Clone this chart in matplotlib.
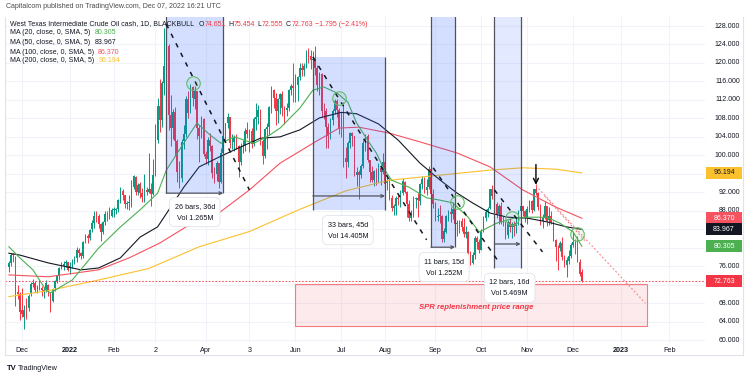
import numpy as np
import pandas as pd
import matplotlib
matplotlib.use("Agg")
import matplotlib.pyplot as plt
from matplotlib.patches import Rectangle

plt.rcParams['font.family'] = ['Liberation Sans', 'DejaVu Sans']

# trading calendar (NYMEX holidays skipped)
HOLIDAYS = ["2021-11-25", "2021-12-24", "2022-01-17", "2022-02-21", "2022-04-15",
            "2022-05-30", "2022-06-20", "2022-07-04", "2022-09-05", "2022-11-24"]

# daily OHLC, 2021-11-22 .. 2022-12-07
opens = [
    75.9, 76.7, 78.5, 78.0, 70.5, 70.0,  # Nov
    66.5, 65.0, 67.0, 67.0, 70.0, 72.1, 72.4, 71.0, 72.0, 71.3, 70.7, 71.0, 72.0, 70.0,
    68.4, 71.2, 72.8, 73.9, 75.6, 76.0, 76.6, 77.0,  # Dec
    75.7, 76.1, 77.0, 77.8, 79.5, 78.9, 78.2, 81.2, 82.6, 82.1, 84.0, 85.4, 87.0, 86.9,
    85.1, 83.3, 85.6, 87.4, 86.6, 86.9,  # Jan
    88.2, 88.2, 88.3, 90.3, 92.3, 91.3, 89.4, 89.7, 89.9, 93.1, 95.4, 92.1, 93.7, 91.8,
    91.1, 92.4, 92.1, 92.8, 91.6,  # Feb
    95.7, 103.4, 110.6, 107.7, 115.7, 119.4, 123.7, 108.7, 106.0, 109.3, 103.0, 96.4,
    95.0, 103.0, 104.7, 112.1, 109.3, 114.9, 112.3, 113.9, 106.0, 104.2, 107.8,  # Mar
    100.3, 99.3, 103.3, 102.0, 96.2, 96.0, 98.3, 94.3, 100.6, 104.3, 107.0, 108.2, 102.6,
    102.8, 103.8, 102.1, 98.5, 101.7, 102.0, 105.4,  # Apr
    104.7, 105.2, 102.4, 107.8, 108.3, 109.8, 103.1, 99.8, 105.7, 106.1, 110.5, 114.2,
    112.4, 109.6, 112.2, 113.2, 110.3, 109.8, 110.3, 114.1, 115.1,  # May
    114.7, 115.3, 116.9, 118.9, 118.5, 119.4, 122.1, 121.5, 120.7, 120.9, 118.9, 115.3,
    117.6, 109.6, 109.5, 106.2, 104.3, 107.6, 109.6, 111.8, 109.8,  # Jun
    105.8, 108.4, 99.5, 98.5, 102.7, 104.8, 104.1, 95.8, 96.3, 95.8, 97.6, 102.6, 104.2,
    98.9, 96.4, 94.7, 96.7, 95.0, 97.3, 96.4,  # Jul
    98.6, 93.9, 94.4, 90.7, 88.5, 89.0, 90.8, 90.5, 91.9, 94.3, 92.1, 89.4, 86.5, 87.1,
    90.5, 90.8, 90.2, 93.7, 94.9, 92.5, 93.1, 97.0, 91.6,  # Aug
    89.6, 86.6, 86.9, 86.9, 81.9, 83.5, 86.8, 87.8, 87.3, 88.5, 85.1, 85.1, 85.7, 84.5,
    82.9, 83.5, 78.7, 76.7, 78.5, 82.2, 81.2,  # Sep
    79.5, 83.6, 86.5, 87.8, 88.5, 92.6, 91.1, 89.4, 87.3, 89.1, 85.6, 85.5, 82.8, 85.6,
    84.5, 85.1, 84.6, 85.3, 87.9, 89.1, 87.9,  # Oct
    86.5, 88.4, 90.0, 88.2, 92.6, 91.8, 88.9, 85.8, 86.5, 89.0, 85.9, 86.9, 85.6, 81.6,
    80.1, 80.0, 81.0, 77.9, 76.3, 77.2, 78.2,  # Nov
    80.6, 81.2, 80.0, 76.9, 74.651,  # Dec
]
highs = [
    77.2, 78.9, 78.9, 78.3, 72.0, 70.5,
    71.3, 67.5, 69.2, 70.0, 72.6, 73.3, 72.8, 72.0, 73.0, 71.8, 71.5, 72.9, 72.2, 70.3,
    71.3, 72.9, 73.9, 75.8, 76.9, 77.2, 77.3, 77.0,
    77.0, 77.6, 78.1, 80.2, 80.0, 79.1, 81.5, 82.9, 83.0, 84.1, 86.0, 87.9, 87.9, 87.2,
    85.3, 85.7, 87.9, 88.0, 88.8, 88.6,
    88.9, 88.7, 90.5, 93.2, 92.7, 91.5, 90.0, 91.4, 94.7, 95.8, 95.6, 94.0, 94.2, 92.9,
    96.0, 93.2, 100.5, 94.0, 99.1,
    106.8, 112.5, 116.6, 116.0, 127.5, 126.0, 124.0, 113.0, 110.0, 110.5, 103.5, 98.8,
    103.5, 106.6, 112.8, 114.0, 115.4, 115.0, 115.0, 114.0, 106.5, 108.6, 108.0,
    101.0, 104.0, 104.9, 102.2, 97.5, 98.8, 98.3, 101.6, 104.5, 107.0, 109.2, 108.4,
    104.7, 104.4, 104.7, 102.3, 102.6, 103.4, 106.0, 107.3,
    105.7, 106.0, 108.4, 111.4, 111.0, 110.0, 103.6, 106.0, 107.0, 110.7, 115.0, 114.3,
    113.4, 112.5, 113.6, 113.9, 110.6, 111.4, 114.4, 115.5, 119.9,
    117.6, 117.1, 120.0, 120.0, 120.0, 122.7, 123.2, 122.7, 122.5, 123.7, 119.5, 118.0,
    117.8, 111.3, 110.3, 106.9, 108.0, 110.0, 112.3, 112.3, 110.3,
    109.4, 111.5, 101.9, 103.2, 105.1, 105.1, 104.2, 97.4, 96.8, 98.2, 103.4, 104.7,
    104.6, 99.0, 97.7, 96.9, 97.2, 98.4, 98.0, 100.5,
    99.0, 95.7, 95.0, 91.4, 89.4, 91.1, 91.5, 92.4, 95.1, 94.4, 92.2, 90.3, 88.2, 91.1,
    91.0, 91.8, 94.0, 95.5, 95.4, 94.8, 97.7, 97.6, 92.6,
    89.9, 88.5, 89.2, 87.0, 84.3, 87.0, 88.1, 88.8, 89.8, 88.6, 85.9, 86.0, 86.4, 86.5,
    84.7, 83.7, 79.3, 79.0, 82.6, 82.5, 81.8,
    84.0, 86.8, 88.4, 88.9, 92.8, 93.6, 91.5, 89.9, 89.4, 89.8, 86.9, 85.8, 86.1, 86.4,
    85.6, 85.7, 86.4, 88.1, 89.9, 89.1, 88.1,
    89.0, 90.4, 90.3, 92.8, 93.7, 92.0, 89.4, 87.4, 90.1, 89.0, 88.8, 87.9, 85.7, 81.9,
    80.6, 81.4, 82.3, 78.5, 77.9, 79.5, 81.0,
    83.3, 81.9, 82.6, 77.5, 75.454,
]
lows = [
    74.7, 76.1, 77.0, 67.4, 68.9, 64.4,
    65.0, 62.4, 64.6, 66.2, 69.5, 71.4, 70.4, 70.2, 70.8, 69.6, 69.0, 70.5, 69.5, 66.1,
    68.2, 70.7, 72.3, 72.9, 75.3, 75.1, 75.8, 74.9,
    74.3, 75.7, 76.4, 76.8, 78.0, 77.5, 77.8, 81.0, 81.1, 81.6, 83.5, 84.2, 85.5, 84.2,
    81.5, 82.9, 85.0, 85.7, 86.2, 86.6,
    86.6, 87.2, 87.8, 89.6, 90.3, 88.6, 88.4, 88.2, 88.8, 92.8, 91.3, 91.4, 90.8, 89.9,
    89.8, 91.4, 91.9, 89.0, 91.5,
    95.6, 102.6, 105.0, 106.2, 113.1, 117.6, 105.5, 102.1, 103.5, 99.8, 94.2, 93.0,
    94.2, 101.3, 103.9, 108.0, 109.2, 110.7, 110.0, 103.5, 98.5, 103.7, 99.8,
    98.2, 98.0, 100.9, 95.0, 93.9, 94.5, 92.9, 94.0, 99.2, 103.3, 106.0, 101.6,
    101.4, 101.0, 101.3, 95.3, 97.8, 100.4, 101.0, 103.7,
    100.8, 101.5, 102.0, 105.4, 106.8, 102.3, 98.2, 99.5, 101.4, 104.4, 109.2, 110.2,
    106.6, 107.1, 108.9, 108.6, 106.7, 108.6, 109.6, 113.1, 111.5,
    111.5, 111.8, 116.3, 117.2, 117.2, 119.0, 120.0, 118.7, 117.8, 117.3, 114.0, 113.0,
    108.2, 107.9, 101.5, 101.6, 103.5, 106.6, 109.0, 108.4, 104.6,
    104.0, 97.4, 95.1, 97.5, 101.6, 102.0, 95.6, 93.4, 90.6, 95.0, 97.3, 101.0,
    98.5, 94.3, 94.3, 93.4, 93.6, 94.3, 93.5, 96.0,
    93.3, 92.5, 90.3, 87.9, 87.1, 87.0, 89.3, 88.8, 91.5, 91.8, 86.6, 85.7, 85.7, 86.6,
    88.6, 86.7, 89.3, 92.6, 91.8, 91.4, 92.8, 90.8, 88.7,
    85.8, 85.7, 85.4, 81.2, 81.3, 83.2, 85.8, 85.6, 86.3, 84.4, 82.6, 83.1, 83.7, 82.3,
    82.2, 78.2, 76.3, 76.5, 77.6, 79.8, 78.9,
    79.4, 83.3, 85.8, 86.6, 88.4, 90.6, 88.5, 86.4, 85.2, 85.2, 84.6, 81.8, 82.1, 83.3,
    82.1, 82.5, 83.1, 84.9, 87.2, 86.9, 85.6,
    85.1, 87.8, 87.6, 87.9, 91.4, 88.1, 85.0, 84.2, 86.2, 84.8, 84.9, 85.2, 81.4, 77.2,
    75.1, 79.2, 77.4, 75.9, 73.6, 76.5, 77.8,
    80.2, 78.6, 76.8, 73.9, 72.555,
]
closes = [
    76.75, 78.50, 78.39, 68.15, 69.95, 66.18,
    65.57, 66.50, 66.26, 69.49, 72.05, 72.36, 70.94, 71.67, 71.29, 70.73, 70.87, 72.38,
    70.86, 68.23, 71.12, 72.76, 73.79, 75.57, 75.98, 76.56, 76.99, 75.21,
    76.08, 76.99, 77.85, 79.46, 78.90, 78.23, 81.22, 82.64, 82.12, 83.82, 85.43, 86.96,
    86.90, 85.14, 83.31, 85.60, 87.35, 86.61, 86.82, 88.15,
    88.20, 88.26, 90.27, 92.31, 91.32, 89.36, 89.66, 89.88, 93.10, 95.46, 92.07, 93.66,
    91.76, 91.07, 92.35, 92.10, 92.81, 91.59, 95.72,
    103.41, 110.60, 107.67, 115.68, 119.40, 123.70, 108.70, 106.02, 109.33, 103.01,
    96.44, 95.04, 102.98, 104.70, 112.12, 109.27, 114.93, 112.34, 113.90, 105.96, 104.24,
    107.82, 100.28,
    99.27, 103.28, 102.00, 96.23, 96.03, 98.26, 94.29, 100.60, 104.25, 106.95, 108.21,
    102.56, 102.75, 103.79, 102.07, 98.54, 101.70, 102.02, 105.36, 104.69,
    105.17, 102.41, 107.81, 108.26, 109.77, 103.09, 99.76, 105.71, 106.13, 110.49, 114.20,
    112.40, 109.59, 112.21, 113.23, 110.29, 109.77, 110.33, 114.09, 115.07, 114.67,
    115.26, 116.87, 118.87, 118.50, 119.41, 122.11, 121.51, 120.67, 120.93, 118.93, 115.31,
    117.59, 109.56, 109.52, 106.19, 104.27, 107.62, 109.57, 111.76, 109.78, 105.76,
    108.43, 99.50, 98.53, 102.73, 104.79, 104.09, 95.84, 96.30, 95.78, 97.59, 102.60,
    104.22, 98.88, 96.35, 94.70, 96.70, 94.98, 97.26, 96.42, 98.62,
    93.89, 94.42, 90.66, 88.54, 89.01, 90.76, 90.50, 91.93, 94.34, 92.09, 89.41, 86.53,
    87.11, 90.50, 90.77, 90.23, 93.74, 94.89, 92.52, 93.06, 97.01, 91.64, 89.55,
    86.61, 86.87, 86.88, 81.94, 83.54, 86.79, 87.78, 87.31, 88.48, 85.10, 85.11, 85.73,
    84.45, 82.94, 83.49, 78.74, 76.71, 78.50, 82.15, 81.23, 79.49,
    83.63, 86.52, 87.76, 88.45, 92.64, 91.13, 89.35, 87.27, 89.11, 85.61, 85.46, 82.82,
    85.55, 84.51, 85.05, 84.58, 85.32, 87.91, 89.08, 87.90, 86.53,
    88.37, 90.00, 88.17, 92.61, 91.79, 88.91, 85.83, 86.47, 88.96, 85.87, 86.92, 85.59,
    81.64, 80.08, 80.04, 80.95, 77.94, 76.28, 77.24, 78.20, 80.55,
    81.22, 79.98, 76.93, 74.25, 72.763,
]

# moving averages (date, value)
ma20_dates = ["2021-11-22", "2021-11-30", "2021-12-08", "2021-12-16", "2021-12-20",
              "2022-01-04", "2022-01-21", "2022-02-04", "2022-02-17", "2022-03-02",
              "2022-03-08", "2022-03-16", "2022-03-28", "2022-04-05", "2022-04-12",
              "2022-04-21", "2022-05-04", "2022-05-12", "2022-05-20", "2022-06-03",
              "2022-06-13", "2022-06-21", "2022-06-29", "2022-07-07", "2022-07-13",
              "2022-07-20", "2022-07-26", "2022-07-29", "2022-08-04", "2022-08-16",
              "2022-08-26", "2022-09-06", "2022-09-14", "2022-09-23", "2022-09-30",
              "2022-10-12", "2022-10-24", "2022-11-01", "2022-11-14", "2022-11-22",
              "2022-12-01", "2022-12-07"]
ma20_vals = [80.2, 77.8, 75.2, 70.8, 70.2, 73.0, 79.9, 84.5, 88.2, 91.8,
             96.8, 101.2, 107.0, 104.4, 102.6, 104.0, 102.6, 104.0, 105.9, 110.2,
             114.1, 114.8, 113.5, 111.5, 107.0, 103.3, 100.5, 97.5, 94.6, 93.1,
             90.8, 90.3, 89.7, 86.6, 83.4, 85.3, 86.4, 86.6, 86.6, 85.3,
             83.4, 80.305]
ma50_dates = ["2021-11-22", "2021-11-30", "2021-12-17", "2022-01-10", "2022-01-21",
              "2022-02-04", "2022-02-17", "2022-03-02", "2022-03-10", "2022-03-18",
              "2022-03-29", "2022-04-11", "2022-04-25", "2022-05-09", "2022-05-20",
              "2022-06-03", "2022-06-16", "2022-07-01", "2022-07-13", "2022-07-27",
              "2022-08-09", "2022-08-23", "2022-09-06", "2022-09-16", "2022-09-27",
              "2022-10-07", "2022-10-19", "2022-11-01", "2022-11-14", "2022-11-28",
              "2022-12-07"]
ma50_vals = [78.8, 78.4, 76.7, 75.2, 75.6, 77.8, 82.3, 84.5, 88.8, 93.1,
             97.5, 99.6, 101.6, 103.7, 104.0, 105.5, 108.1, 109.3, 109.0, 106.8,
             103.3, 98.3, 94.7, 91.8, 89.7, 87.5, 86.6, 86.4, 85.6, 84.5,
             83.967]
ma100_dates = ["2021-11-22", "2021-12-17", "2022-01-21", "2022-02-10", "2022-03-03",
               "2022-03-21", "2022-04-11", "2022-05-02", "2022-05-20", "2022-06-13",
               "2022-06-30", "2022-07-14", "2022-08-03", "2022-08-23", "2022-09-16",
               "2022-10-07", "2022-10-28", "2022-11-18", "2022-12-07"]
ma100_vals = [74.1, 73.7, 75.2, 77.8, 81.0, 84.5, 87.5, 92.5, 98.3, 102.6,
              105.9, 106.1, 104.8, 102.9, 100.5, 97.5, 92.5, 88.8, 86.370]
ma200_dates = ["2021-11-22", "2021-12-17", "2022-01-21", "2022-02-24", "2022-03-29",
               "2022-05-02", "2022-06-03", "2022-07-06", "2022-08-03", "2022-09-06",
               "2022-10-07", "2022-10-28", "2022-11-18", "2022-12-07"]
ma200_vals = [69.4, 70.7, 73.0, 75.5, 80.2, 83.5, 88.3, 92.3, 94.6, 95.7,
              96.8, 97.3, 97.0, 96.194]

# date range boxes: start, end, low price, high price, arrow price, label
range_start = ["2022-03-08", "2022-06-13", "2022-08-30", "2022-10-11"]
range_end = ["2022-04-13", "2022-08-01", "2022-09-15", "2022-10-27"]
range_low = [91.8, 88.2, 80.1, 75.6]
range_high = [131.0, 121.3, 131.0, 131.0]
range_arrow = [91.8, 91.2, 80.1, 80.8]
range_text = ["26 bars, 36d\nVol 1.265M", "33 bars, 45d\nVol 14.405M",
              "11 bars, 15d\nVol 1.252M", "12 bars, 16d\nVol 5.469M"]
range_lbl_date = ["2022-03-25", "2022-07-07", "2022-09-08", "2022-10-20"]
range_lbl_price = [87.7, 83.8, 75.8, 71.3]

# dashed trend lines
trend_start = [("2022-03-08", 128.4), ("2022-06-13", 121.3), ("2022-08-31", 97.3), ("2022-10-11", 92.5)]
trend_end = [("2022-05-02", 92.5), ("2022-08-26", 81.7), ("2022-10-13", 76.9), ("2022-11-10", 79.1)]
pink_start = [("2022-11-07", 93.4), ("2022-11-11", 91.2)]
pink_end = [("2023-01-17", 68.0), ("2022-12-09", 81.2)]
circle_dates = ["2022-03-24", "2022-06-30", "2022-09-16", "2022-10-21", "2022-12-05"]
circle_prices = [115.7, 112.4, 89.9, 86.4, 83.0]

spr_low, spr_high = 63.0, 72.1
spr_start, spr_end = "2022-06-01", "2023-01-18"

month_starts = ["2021-12-01", "2022-01-01", "2022-02-01", "2022-03-01", "2022-04-01",
                "2022-05-01", "2022-06-01", "2022-07-01", "2022-08-01", "2022-09-01",
                "2022-10-01", "2022-11-01", "2022-12-01", "2023-01-01", "2023-02-01"]
month_labels = ["Dec", "2022", "Feb", "2", "Apr", "3", "Jun", "Jul", "Aug", "Sep",
                "Oct", "Nov", "Dec", "2023", "Feb"]
price_ticks = list(range(60, 129, 4))

UP, DOWN = "#089981", "#f23645"
C20, C50, C100, C200 = "#4caf50", "#131722", "#f7525f", "#fbc02d"
TXT = "#131722"

# ---------------------------------------------------------------
days = pd.bdate_range("2021-11-22", "2022-12-07")
days = days[~days.isin(pd.to_datetime(HOLIDAYS))]
all_days = days.append(pd.bdate_range("2022-12-08", "2023-04-28"))
assert len(days) == len(closes)


def xi(d):
    return int(all_days.searchsorted(pd.Timestamp(d)))


o, h, l, c = map(np.array, (opens, highs, lows, closes))
x = np.arange(len(c))

W, H = 750, 376
AX_L, AX_R, AX_T, AX_B = 5, 705, 17, 343
BAR_PX = 2.187
x0 = xi("2021-12-01")
X_LO, X_HI = x0 - (22 - AX_L) / BAR_PX, x0 + (AX_R - 22) / BAR_PX
Y_LO, Y_HI = 59.36, 129.95

fig = plt.figure(figsize=(W / 100, H / 100), dpi=100)
ax = fig.add_axes([AX_L / W, 1 - AX_B / H, (AX_R - AX_L) / W, (AX_B - AX_T) / H])
ax.set_xlim(X_LO, X_HI)
ax.set_ylim(Y_LO, Y_HI)
for s in ax.spines.values():
    s.set_visible(False)
ax.set_yticks(price_ticks)
ax.set_xticks([xi(m) for m in month_starts])
ax.tick_params(length=0, labelleft=False, labelbottom=False)
ax.grid(color="#f0f3fa", lw=0.8, zorder=0)

# candles
col = np.where(c >= o, UP, DOWN)
ax.vlines(x, l, h, colors=col, lw=0.7, zorder=2)
ax.bar(x, np.maximum(np.abs(c - o), 0.15), bottom=np.minimum(o, c), width=0.72,
       color=col, lw=0, zorder=2)

# moving averages
for dts, vals, cc in [(ma200_dates, ma200_vals, C200), (ma100_dates, ma100_vals, C100),
                      (ma50_dates, ma50_vals, C50), (ma20_dates, ma20_vals, C20)]:
    ax.plot([xi(d) for d in dts], vals, color=cc, lw=0.8, zorder=3)

# last price line
ax.axhline(closes[-1], color=DOWN, lw=0.6, ls=(0, (2, 2)), zorder=3)

# SPR box
ax.add_patch(Rectangle((xi(spr_start), spr_low), xi(spr_end) - xi(spr_start), spr_high - spr_low,
                       fc="#f23645", alpha=0.1, lw=0, zorder=4))
ax.add_patch(Rectangle((xi(spr_start), spr_low), xi(spr_end) - xi(spr_start), spr_high - spr_low,
                       fill=False, ec="#f77c80", lw=0.8, zorder=4))
ax.text((xi(spr_start) + xi(spr_end)) / 2 + 2, 67.0, "SPR replenishment price range",
        color="#f23645", fontsize=5.6, fontweight="bold", style="italic",
        ha="center", va="center", zorder=5)

# date range tools
for i in range(4):
    a, b = xi(range_start[i]), xi(range_end[i])
    alpha = 0.2 if i < 3 else 0.13
    ax.add_patch(Rectangle((a, range_low[i]), b - a, range_high[i] - range_low[i],
                           fc="#2962ff", alpha=alpha, lw=0, zorder=4))
    ax.vlines([a, b], range_low[i], range_high[i], color="#50535e", lw=0.9, zorder=4)
    ax.annotate("", xy=(b, range_arrow[i]), xytext=(a, range_arrow[i]),
                arrowprops=dict(arrowstyle="->", color="#50535e", lw=0.9,
                                shrinkA=0, shrinkB=0, mutation_scale=5), zorder=4)
    ax.text(xi(range_lbl_date[i]), range_lbl_price[i], range_text[i], fontsize=5.2,
            color=TXT, ha="center", va="center", linespacing=2.0, zorder=6,
            bbox=dict(boxstyle="round,pad=0.7", fc="white", ec="#e0e3eb", lw=0.6))

# trend lines
for (d1, p1), (d2, p2) in zip(trend_start, trend_end):
    ax.plot([xi(d1), xi(d2)], [p1, p2], color="#131722", lw=1.1, ls=(0, (3, 4)), zorder=5)
for (d1, p1), (d2, p2) in zip(pink_start, pink_end):
    ax.plot([xi(d1), xi(d2)], [p1, p2], color="#f77c80", lw=0.8, ls=(0, (1.5, 2)), zorder=5)
ax.scatter([xi(d) for d in circle_dates], circle_prices, s=95, marker="o",
           facecolor=(0.3, 0.69, 0.31, 0.08), edgecolor="#66bb6a", lw=0.8, zorder=5)
ax.annotate("", xy=(xi("2022-11-07"), 93.6), xytext=(xi("2022-11-07"), 98.0),
            arrowprops=dict(arrowstyle="->", color="black", lw=1.0, shrinkA=0, shrinkB=0,
                            mutation_scale=9), zorder=6)

# time axis labels
xt = ax.get_xaxis_transform()
for m, lab in zip(month_starts, month_labels):
    ax.text(xi(m), -(350 - AX_B) / (AX_B - AX_T), lab, transform=xt, fontsize=5.2,
            color=TXT, ha="center", va="center", clip_on=False,
            fontweight="bold" if lab.startswith("20") else "normal")

# price scale labels and tags
yt = ax.get_yaxis_transform()
lx = (740 - AX_L) / (AX_R - AX_L)
for p in price_ticks:
    if p in (72, 80, 84, 96):
        continue
    ax.text(lx, p, f"{p:.3f}", transform=yt, fontsize=5, color=TXT, ha="right",
            va="center", clip_on=False)
tag_h = 12 / ((AX_B - AX_T) / (Y_HI - Y_LO))
tx0 = (706 - AX_L) / (AX_R - AX_L)
tw = 36 / (AX_R - AX_L)
for val, bg, fg in [(96.194, C200, TXT), (86.370, C100, "white"), (83.967, C50, "white"),
                    (80.305, C20, "white"), (72.763, DOWN, "white")]:
    ax.add_patch(Rectangle((tx0, val - tag_h / 2), tw, tag_h, transform=yt, fc=bg, lw=0,
                           clip_on=False, zorder=7))
    ax.text(tx0 + tw / 2, val, f"{val:.3f}", transform=yt, fontsize=5, color=fg,
            ha="center", va="center", clip_on=False, zorder=8)

# frame
for (xa, ya, xb, yb) in [(5, 355, 743, 355), (743, 17, 743, 355), (5, 17, 5, 355)]:
    fig.add_artist(plt.Line2D([xa / W, xb / W], [1 - ya / H, 1 - yb / H], color="#e0e3eb", lw=0.8))

# header and legend
renderer = fig.canvas.get_renderer()


def chain(px, py, parts, size):
    """write text pieces one after another on a line"""
    for s, cc, gap in parts:
        t = fig.text(px / W, 1 - py / H, s, fontsize=size, color=cc, va="center", zorder=9)
        px = t.get_window_extent(renderer).x1 + gap


LF = 5.0
fig.text(6 / W, 1 - 7 / H, "Capitalcom published on TradingView.com, Dec 07, 2022 16:21 UTC",
         fontsize=5, color="#4a4a4a", va="center")
chain(10, 24, [("West Texas Intermediate Crude Oil cash, 1D, BLACKBULL", TXT, 4.5),
               ("O", TXT, 0.3), ("74.651", DOWN, 2.5), ("H", TXT, 0.3), ("75.454", DOWN, 2.5),
               ("L", TXT, 0.3), ("72.555", DOWN, 2.5), ("C", TXT, 0.3), ("72.763", DOWN, 2.5),
               ("\u22121.795 (\u22122.41%)", DOWN, 0)], LF)
for yy, lab, v, cc in [(33, "MA (20, close, 0, SMA, 5)", "80.305", C20),
                       (42, "MA (50, close, 0, SMA, 5)", "83.967", C50),
                       (52, "MA (100, close, 0, SMA, 5)", "86.370", C100),
                       (61, "MA (200, close, 0, SMA, 5)", "96.194", C200)]:
    chain(10, yy, [(lab, TXT, 4), (v, cc, 0)], LF)

fig.text(7 / W, 1 - 368 / H, "TV", fontsize=5.5, fontweight="bold", color=TXT, va="center")
fig.text(18 / W, 1 - 368 / H, "TradingView", fontsize=5.2, color=TXT, va="center")

fig.savefig("out.png", dpi=100, facecolor="white")
